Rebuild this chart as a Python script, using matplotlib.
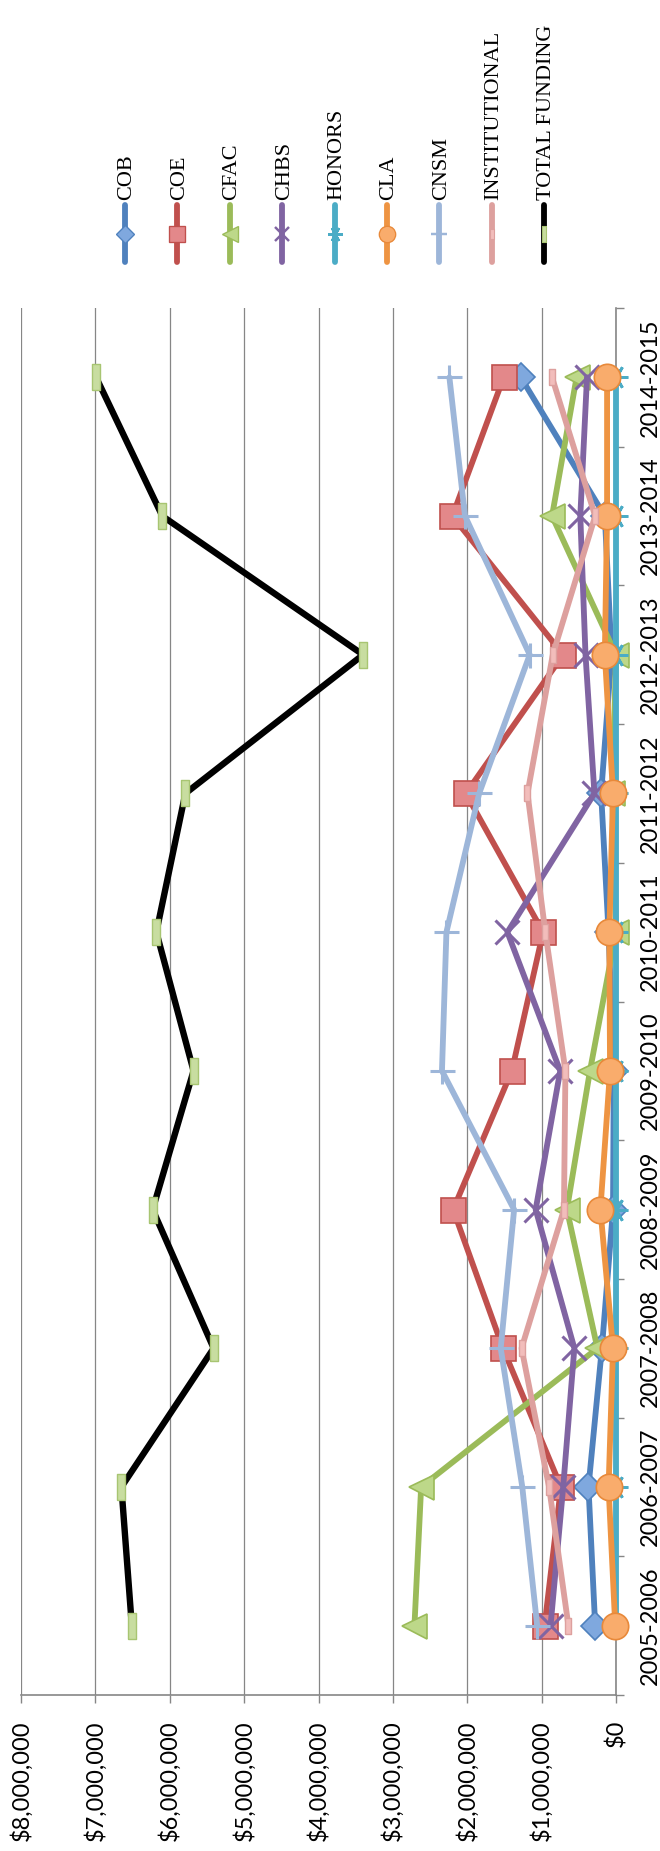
"""Funding by college, 2005-2015 (chart drawn turned a quarter turn, as in the source)."""

import numpy as np
import matplotlib

matplotlib.use("Agg")
import matplotlib.pyplot as plt
from matplotlib.lines import Line2D

years = ["2005-2006", "2006-2007", "2007-2008", "2008-2009", "2009-2010",
         "2010-2011", "2011-2012", "2012-2013", "2013-2014", "2014-2015"]

# values in millions of dollars
cob = [0.28, 0.37, 0.19, 0.04, 0.03, 0.10, 0.20, 0.06, 0.15, 1.28]
coe = [0.96, 0.74, 1.52, 2.19, 1.40, 0.98, 2.02, 0.71, 2.20, 1.51]
cfac = [2.71, 2.62, 0.25, 0.66, 0.35, 0.00, 0.05, 0.00, 0.86, 0.53]
chbs = [0.88, 0.71, 0.56, 1.08, 0.75, 1.46, 0.29, 0.41, 0.48, 0.39]
honors = [0.00, 0.00, 0.00, 0.00, 0.00, 0.00, 0.00, 0.00, 0.00, 0.00]
cla = [0.01, 0.10, 0.04, 0.21, 0.08, 0.09, 0.04, 0.15, 0.12, 0.12]
cnsm = [1.06, 1.26, 1.55, 1.37, 2.34, 2.28, 1.84, 1.16, 2.03, 2.24]
institutional = [0.64, 0.90, 1.27, 0.70, 0.68, 0.95, 1.19, 0.85, 0.28, 0.86]
total = [6.51, 6.65, 5.41, 6.23, 5.68, 6.18, 5.79, 3.40, 6.10, 6.99]

value_ticks = np.arange(0, 8_000_001, 1_000_000)

bar = [(-0.27, -1), (0.27, -1), (0.27, 1), (-0.27, 1), (-0.27, -1)]
small_bar = [(-0.4, -1), (0.4, -1), (0.4, 1), (-0.4, 1), (-0.4, -1)]

# name, data, line colour, marker, marker size, fill, edge, edge width
series = [
    ("COB", cob, "#4F81BD", "D", 14, "#7FA8DE", "#4F81BD", 1.2),
    ("COE", coe, "#C0504D", "s", 18, "#E3888A", "#C0504D", 1.2),
    ("CFAC", cfac, "#9BBB59", "<", 18, "#BDD889", "#9BBB59", 1.2),
    ("CHBS", chbs, "#8064A2", "x", 17, "#8064A2", "#8064A2", 2.2),
    ("HONORS", honors, "#4BACC6", (6, 2, 90), 17, "#4BACC6", "#4BACC6", 2.0),
    ("CLA", cla, "#EE9442", "o", 19, "#F9AC6C", "#E8893A", 1.2),
    ("CNSM", cnsm, "#9DB6D9", "+", 18, "#9DB6D9", "#9DB6D9", 2.2),
    ("INSTITUTIONAL", institutional, "#DDA09E", small_bar, 12, "#F2BDBB", "#DDA09E", 1.0),
    ("TOTAL FUNDING", total, "#000000", bar, 19, "#C8DDA0", "#A8C572", 1.0),
]

grey = "#868686"
W, H = 660, 1851
fig = plt.figure(figsize=(W / 100, H / 100), dpi=100)

# plot box in pixels: x 21..616, y 308..1695 from the top
ax = fig.add_axes([21 / W, (H - 1695) / H, 595 / W, 1387 / H])
pos = np.arange(len(years))

for i, (name, vals, lc, mk, ms, fc, ec, mew) in enumerate(series):
    ax.plot(np.array(vals) * 1e6, pos, color=lc,
            lw=4.6 if name == "TOTAL FUNDING" else 4.2,
            marker=mk, markersize=ms, markerfacecolor=fc, markeredgecolor=ec,
            markeredgewidth=mew, clip_on=False, zorder=3 + i,
            solid_joinstyle="round", solid_capstyle="round")

ax.set_xlim(8_000_000, 0)
ax.set_ylim(-0.5, len(years) - 0.5)

ax.set_xticks(value_ticks)
ax.set_xticklabels([f"${v:,.0f}" for v in value_ticks],
                   rotation=90, ha="center", va="top",
                   family="Lato", fontsize=17)
ax.tick_params(axis="x", direction="out", length=6, width=1, color=grey, pad=12)
ax.xaxis.grid(True, color=grey, lw=0.9)
ax.set_axisbelow(True)

ax.yaxis.tick_right()
ax.set_yticks(pos)
ax.set_yticklabels(years, rotation=90, va="center", family="Lato", fontsize=17)
ax.set_yticks(np.arange(-0.5, len(years), 1), minor=True)
ax.tick_params(axis="y", which="major", length=0, pad=17)
ax.tick_params(axis="y", which="minor", direction="out", length=6, width=1, color=grey)

for side in ["top", "left"]:
    ax.spines[side].set_visible(False)
for side in ["right", "bottom"]:
    ax.spines[side].set_color(grey)
    ax.spines[side].set_linewidth(1.2)

# legend, laid out along the top
for i, (name, vals, lc, mk, ms, fc, ec, mew) in enumerate(series):
    xc = (125 + 52.4 * i) / W
    fig.add_artist(Line2D([xc, xc], [1 - 205 / H, 1 - 262 / H], color=lc, lw=4.2,
                          solid_capstyle="round", transform=fig.transFigure))
    fig.add_artist(Line2D([xc], [1 - 234 / H], marker=mk, markersize=ms * 0.62,
                          markerfacecolor=fc, markeredgecolor=ec,
                          markeredgewidth=mew * 0.8, transform=fig.transFigure))
    fig.text(xc + 2 / W, 1 - 200 / H, name, rotation=90, ha="center", va="bottom",
             family="Liberation Serif", fontsize=16)

fig.savefig("out.png", dpi=100)
